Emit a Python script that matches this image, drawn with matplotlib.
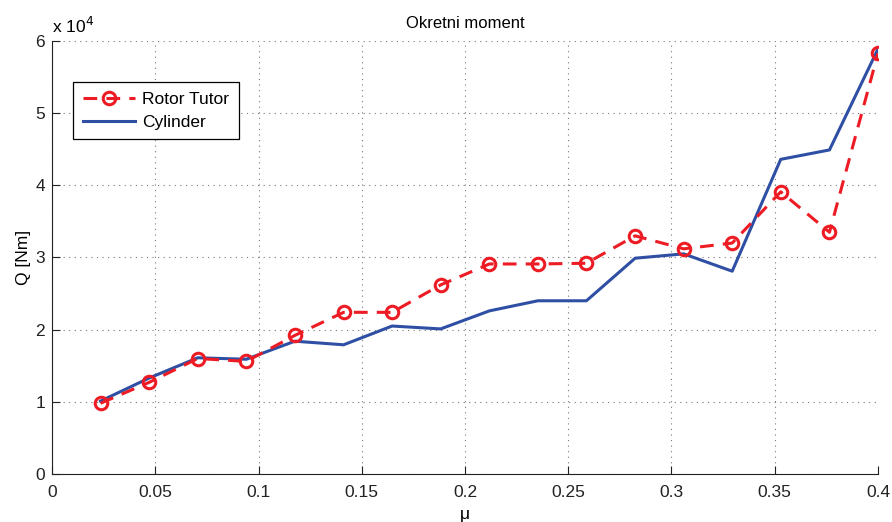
import numpy as np
import matplotlib
matplotlib.use('Agg')
import matplotlib.pyplot as plt
from matplotlib.ticker import FuncFormatter, MultipleLocator

plt.rcParams['font.family'] = ['Liberation Sans', 'DejaVu Sans']

# mu values (17 points)
mu = [0.0235, 0.0471, 0.0706, 0.0941, 0.1176, 0.1412, 0.1647, 0.1882, 0.2118,
      0.2353, 0.2588, 0.2824, 0.3059, 0.3294, 0.3529, 0.3765, 0.4000]
# torque Q [Nm]
rotor_tutor = [9800, 12700, 16000, 15600, 19200, 22400, 22400, 26200, 29100,
               29100, 29200, 33000, 31200, 32000, 39100, 33500, 58300]
cylinder = [10100, 13300, 16100, 15900, 18400, 17900, 20500, 20100, 22600,
            24000, 24000, 29900, 30500, 28100, 43600, 44900, 58900]

red = '#ED1C24'
blue = '#2E4FA3'

fig = plt.figure(figsize=(8.92, 5.22), dpi=100)
ax = fig.add_axes([0.0583, 0.092, 0.926, 0.8295])

ax.plot(mu, rotor_tutor, '--o', color=red, lw=2.2, ms=9, mfc='none', mec=red,
        mew=2.2, dashes=(4.5, 3), label='Rotor Tutor', zorder=3)
ax.plot(mu, cylinder, '-', color=blue, lw=2.2, label='Cylinder', zorder=2)

ax.set_xlim(0, 0.4)
ax.set_ylim(0, 60000)
ax.xaxis.set_major_locator(MultipleLocator(0.05))
ax.yaxis.set_major_locator(MultipleLocator(10000))
ax.xaxis.set_major_formatter(FuncFormatter(lambda v, p: ('%g' % round(v, 3))))
ax.yaxis.set_major_formatter(FuncFormatter(lambda v, p: '%d' % round(v / 1e4)))

for s in ['top', 'right']:
    ax.spines[s].set_visible(False)
for s in ['left', 'bottom']:
    ax.spines[s].set_linewidth(0.8)
    ax.spines[s].set_color('#222222')

ax.tick_params(direction='in', length=6, width=0.8, labelsize=12.5, colors='#222222',
               pad=5)
ax.tick_params(axis='x', pad=8)
ax.grid(True, color='#777777', linestyle=(0, (1, 4)), linewidth=0.8)
ax.set_axisbelow(True)

ax.set_title('Okretni moment', fontsize=12, pad=9)
ax.set_xlabel('μ', fontsize=12.5, labelpad=5)
ax.set_ylabel('Q [Nm]', fontsize=12.5, labelpad=3)
ax.text(0.0, 1.012, 'x 10$^4$', transform=ax.transAxes, fontsize=12.5,
        ha='left', va='bottom')

leg = ax.legend(loc='upper left', bbox_to_anchor=(0.0254, 0.905), fontsize=12.5,
                fancybox=False, framealpha=1, edgecolor='black',
                handlelength=3.0, handletextpad=0.45, borderpad=0.55,
                labelspacing=0.45, borderaxespad=0)
leg.get_frame().set_linewidth(0.9)

fig.savefig('out.png', dpi=100)
